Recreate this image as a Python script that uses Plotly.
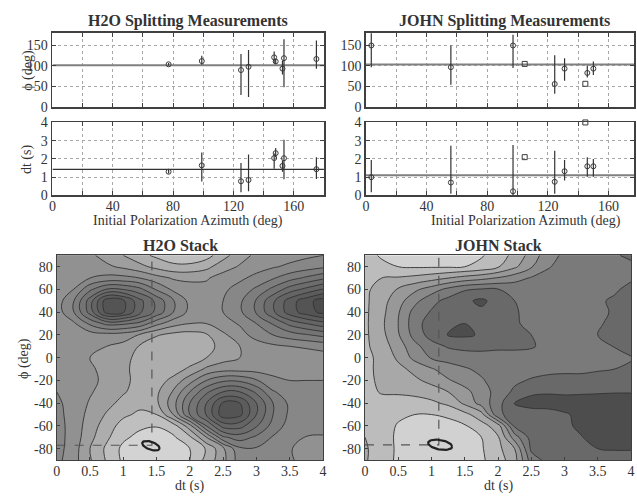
import math
import plotly.graph_objects as go

W, H = 637, 502
SERIF = "Liberation Serif"

# ---------------- splitting measurements ----------------
h2o_az = [77, 99, 125, 130, 147, 148, 152.5, 153.5, 175]
h2o_phi = [104, 112, 90, 98, 121, 111, 93.5, 119, 117]
h2o_phi_lo = [101, 103, 29, 24, 107, 105, 79, 48, 93]
h2o_phi_hi = [107, 125, 129, 139, 135, 117, 113, 165, 162]
h2o_dt = [1.3, 1.65, 0.78, 0.85, 2.05, 2.32, 1.62, 2.04, 1.44]
h2o_dt_lo = [1.2, 0.76, 0.18, 0.23, 1.47, 2.1, 1.3, 0.89, 0.9]
h2o_dt_hi = [1.4, 2.35, 1.78, 2.25, 2.3, 2.6, 1.92, 3.05, 2.1]
h2o_best_phi = 102
h2o_best_dt = 1.43
h2o_stack_phi = -77

john_az = [3.5, 56, 97, 124.5, 131, 146, 150]
john_phi = [150, 97, 150, 56, 93.5, 83, 93.5]
john_phi_lo = [97, 54, 95, 32, 64, 72, 78]
john_phi_hi = [190, 150, 176, 126, 119, 101, 111]
john_dt = [1.0, 0.71, 0.23, 0.75, 1.33, 1.6, 1.6]
john_dt_lo = [0.18, 0.09, 0.0, 0.1, 0.82, 1.03, 1.03]
john_dt_hi = [1.95, 2.72, 2.77, 2.45, 1.95, 2.1, 2.0]
john_null_az = [104.7, 144.7]
john_null_phi = [105, 56.5]
john_null_dt = [2.1, 4.0]
john_best_phi = 103.5
john_best_dt = 1.11
john_stack_phi = -76.6

# ---------------- stacked energy grids ----------------
dt_grid = [0, 0.25, 0.5, 0.75, 1, 1.25, 1.5, 1.75, 2, 2.25, 2.5, 2.75, 3, 3.25, 3.5, 3.75, 4]
phi_grid = [-90, -80, -70, -60, -50, -40, -30, -20, -10, 0, 10, 20, 30, 40, 50, 60, 70, 80, 90]

h2o_energy = [
    [5.3, 4.4, 3.1, 1.9, 0.8, 0.4, 0.3, 0.45, 1.0, 2.3, 3.7, 5.5, 5.9, 5.6, 5.15, 4.6, 4.5],
    [5.4, 4.5, 3.0, 1.8, 0.75, 0.3, 0.2, 0.4, 1.0, 2.1, 3.8, 5.8, 5.9, 5.6, 5.1, 4.5, 4.4],
    [5.4, 4.6, 3.3, 2.2, 1.2, 0.7, 0.55, 0.85, 1.8, 4.0, 6.8, 7.5, 6.8, 5.9, 5.5, 4.95, 4.9],
    [5.4, 4.6, 3.5, 2.5, 1.6, 1.2, 1.05, 1.5, 3.6, 7.0, 9.4, 9.4, 8.1, 6.6, 5.6, 5.4, 5.4],
    [5.3, 4.6, 3.7, 2.9, 2.2, 1.8, 2.0, 4.0, 7.0, 9.1, 11.6, 11.3, 9.0, 7.0, 5.8, 5.5, 5.5],
    [5.2, 4.6, 3.9, 3.3, 2.7, 2.3, 2.8, 4.6, 7.0, 9.0, 11.2, 11.0, 9.0, 7.0, 5.8, 5.5, 5.5],
    [5.0, 4.6, 4.1, 3.6, 3.1, 2.6, 2.8, 4.1, 6.0, 7.8, 9.0, 9.0, 7.8, 6.1, 5.5, 5.3, 5.3],
    [4.8, 4.5, 4.2, 3.8, 3.3, 2.6, 2.5, 3.3, 4.6, 6.0, 6.8, 6.8, 6.1, 5.2, 5.0, 5.0, 5.0],
    [4.5, 4.4, 4.1, 3.8, 3.3, 2.5, 2.3, 2.5, 3.2, 4.2, 4.6, 4.6, 4.6, 4.7, 4.7, 4.8, 4.8],
    [4.3, 4.2, 4.0, 3.8, 3.4, 2.6, 2.2, 2.2, 2.4, 3.0, 3.6, 4.0, 4.3, 4.5, 4.6, 4.6, 4.6],
    [4.2, 4.1, 4.1, 4.0, 3.7, 2.9, 2.3, 2.1, 2.2, 2.6, 3.4, 4.0, 4.5, 4.8, 5.0, 5.1, 5.3],
    [4.2, 4.3, 4.5, 4.6, 4.5, 3.9, 3.1, 2.7, 2.6, 2.9, 3.8, 4.6, 5.4, 6.0, 6.5, 6.9, 7.3],
    [4.3, 4.8, 6.2, 7.3, 7.2, 6.7, 5.3, 4.4, 4.0, 4.0, 4.6, 5.1, 6.0, 7.1, 8.3, 9.0, 9.6],
    [4.5, 5.9, 8.4, 11.4, 11.1, 9.2, 7.7, 6.0, 4.7, 4.4, 5.0, 5.8, 7.1, 8.8, 10.5, 11.5, 12.3],
    [4.5, 5.9, 8.5, 11.6, 11.2, 9.3, 7.7, 6.1, 4.7, 4.4, 5.0, 5.8, 7.1, 8.8, 10.5, 11.6, 12.5],
    [4.6, 5.0, 6.8, 8.1, 8.0, 7.3, 5.9, 4.8, 4.4, 4.3, 4.8, 5.4, 6.2, 7.3, 8.5, 9.3, 10.1],
    [4.8, 4.9, 5.0, 5.3, 5.3, 5.0, 4.4, 3.9, 3.8, 3.9, 4.4, 4.8, 5.3, 5.9, 6.6, 7.2, 7.8],
    [5.0, 4.8, 4.5, 4.2, 3.8, 3.3, 2.7, 2.3, 2.3, 2.7, 3.6, 4.1, 4.6, 4.9, 5.2, 5.5, 5.8],
    [5.0, 4.7, 4.2, 3.6, 3.0, 2.3, 1.8, 1.3, 1.2, 1.6, 2.6, 3.6, 4.2, 4.4, 4.6, 4.8, 5.0],
]

john_energy = [
    [2.1, 1.5, 0.8, 0.4, 0.3, 0.3, 0.5, 0.85, 1.5, 2.6, 5.5, 6.3, 6.5, 6.6, 6.7, 6.7, 6.7],
    [2.1, 1.6, 0.8, 0.35, 0.15, 0.2, 0.45, 0.9, 1.7, 3.0, 6.2, 6.5, 6.6, 6.8, 7.0, 7.05, 7.05],
    [2.0, 1.5, 0.8, 0.4, 0.3, 0.35, 0.6, 1.0, 1.9, 4.5, 6.4, 6.6, 6.8, 6.95, 7.4, 7.6, 7.6],
    [2.0, 1.5, 0.9, 0.6, 0.5, 0.6, 0.9, 1.6, 2.5, 6.2, 6.4, 6.6, 6.8, 7.2, 7.6, 7.8, 7.8],
    [1.9, 1.6, 1.2, 1.0, 1.0, 1.2, 1.7, 2.6, 5.8, 6.4, 6.5, 6.6, 6.9, 7.2, 7.6, 7.8, 7.8],
    [1.9, 1.8, 1.7, 1.7, 1.8, 2.2, 3.2, 4.4, 5.6, 7.1, 7.4, 7.4, 7.4, 7.5, 7.7, 7.8, 7.8],
    [1.8, 2.05, 2.1, 2.2, 2.5, 3.0, 3.7, 4.5, 5.4, 6.2, 6.8, 6.9, 6.85, 6.85, 6.85, 6.9, 6.9],
    [1.8, 2.15, 2.4, 2.8, 3.3, 3.9, 4.4, 4.9, 5.4, 5.8, 6.1, 6.3, 6.3, 6.3, 6.4, 6.5, 6.5],
    [1.8, 2.2, 2.7, 3.3, 3.9, 4.5, 4.9, 5.2, 5.4, 5.5, 5.6, 5.7, 5.8, 5.8, 5.9, 6.0, 6.1],
    [1.8, 2.2, 3.2, 4.3, 5.1, 5.4, 5.5, 5.6, 5.6, 5.6, 5.6, 5.5, 5.3, 5.2, 5.3, 5.6, 5.95],
    [1.8, 2.5, 3.5, 4.7, 5.6, 6.1, 6.3, 6.3, 6.2, 6.2, 6.1, 5.7, 5.3, 5.2, 5.5, 6.05, 6.3],
    [1.8, 2.7, 3.9, 5.4, 6.4, 7.05, 7.15, 6.9, 6.5, 6.2, 6.0, 5.6, 5.3, 5.4, 6.0, 6.3, 6.5],
    [1.8, 2.8, 4.0, 5.6, 6.5, 6.8, 7.0, 6.8, 6.5, 6.1, 5.8, 5.6, 5.4, 5.5, 5.9, 6.2, 6.4],
    [1.8, 2.7, 3.9, 5.4, 6.1, 6.5, 6.7, 6.8, 6.5, 6.1, 5.7, 5.5, 5.5, 5.6, 5.8, 6.1, 6.4],
    [1.8, 2.6, 3.6, 4.7, 5.7, 6.3, 6.8, 7.2, 6.6, 6.0, 5.6, 5.5, 5.6, 5.7, 5.9, 6.1, 6.4],
    [1.8, 2.4, 3.1, 3.8, 4.5, 5.3, 5.9, 6.1, 6.05, 5.7, 5.5, 5.5, 5.6, 5.7, 5.8, 5.9, 6.2],
    [1.7, 2.0, 2.1, 2.3, 2.6, 3.0, 3.4, 3.7, 4.1, 4.6, 5.1, 5.4, 5.5, 5.6, 5.7, 5.7, 5.9],
    [1.5, 1.2, 1.0, 0.9, 0.9, 0.9, 1.0, 1.3, 1.9, 2.8, 3.9, 4.9, 5.4, 5.5, 5.5, 5.6, 5.75],
    [1.3, 0.9, 0.7, 0.6, 0.6, 0.6, 0.7, 0.9, 1.5, 2.3, 3.4, 4.6, 5.2, 5.5, 5.7, 5.9, 6.2],
]

# band fill greys, lightest (below first contour) to darkest
h2o_band_greys = ["#d3d3d3", "#bfbfbf", "#adadad", "#9e9e9e", "#919191", "#878787", "#7d7d7d",
                  "#747474", "#6c6c6c", "#646464", "#5c5c5c", "#545454", "#4c4c4c"]
john_band_greys = ["#d1d1d1", "#bcbcbc", "#a8a8a8", "#989898", "#898989", "#7a7a7a", "#696969",
                   "#4d4d4d"]

# 95% confidence ellipses (centre dt, centre phi, half-width dt, half-height phi, skew)
h2o_conf = (1.415, -77.4, 0.13, 3.6, -2.2)
john_conf = (1.13, -76.6, 0.18, 4.2, -1.6)


def px(x):
    return x / W


def py(y):
    return 1 - y / H


fig = go.Figure()

MARK = dict(symbol="circle-open", size=5, color="#3a3a3a", line=dict(width=1, color="#3a3a3a"))


def err(v, lo, hi):
    return dict(type="data", symmetric=False,
                array=[h - a for a, h in zip(v, hi)],
                arrayminus=[a - l for a, l in zip(v, lo)],
                color="#333333", thickness=1.2, width=0)


def meas(xa, ya, az, val, lo, hi):
    fig.add_trace(go.Scatter(x=az, y=val, mode="markers", xaxis=xa, yaxis=ya,
                             marker=MARK, error_y=err(val, lo, hi), showlegend=False))


def hline(xa, ya, xr, val, color, width):
    fig.add_trace(go.Scatter(x=list(xr), y=[val, val], mode="lines", xaxis=xa, yaxis=ya,
                             line=dict(color=color, width=width), showlegend=False,
                             hoverinfo="skip"))


# H2O top panels
hline("x", "y", (0, 180), h2o_best_phi, "#808080", 2)
meas("x", "y", h2o_az, h2o_phi, h2o_phi_lo, h2o_phi_hi)
hline("x2", "y2", (0, 180), h2o_best_dt, "#333333", 1.2)
meas("x2", "y2", h2o_az, h2o_dt, h2o_dt_lo, h2o_dt_hi)

# JOHN top panels
hline("x3", "y3", (0, 180), john_best_phi, "#808080", 2)
meas("x3", "y3", john_az, john_phi, john_phi_lo, john_phi_hi)
fig.add_trace(go.Scatter(x=john_null_az, y=john_null_phi, mode="markers", xaxis="x3", yaxis="y3",
                         marker=dict(symbol="square-open", size=5, color="#3a3a3a", line=dict(width=1)),
                         cliponaxis=False, showlegend=False))
hline("x4", "y4", (0, 180), john_best_dt, "#808080", 2)
meas("x4", "y4", john_az, john_dt, john_dt_lo, john_dt_hi)
fig.add_trace(go.Scatter(x=john_null_az, y=john_null_dt, mode="markers", xaxis="x4", yaxis="y4",
                         marker=dict(symbol="square-open", size=5, color="#3a3a3a", line=dict(width=1)),
                         cliponaxis=False, showlegend=False))


# contour stacks
def stack(xa, ya, z, greys):
    n = len(greys) - 1
    cs = [[i / n, g] for i, g in enumerate(greys)]
    fig.add_trace(go.Contour(
        x=dt_grid, y=phi_grid, z=z, xaxis=xa, yaxis=ya,
        colorscale=cs, showscale=False,
        contours=dict(start=1, end=n, size=1, coloring="fill"),
        line=dict(color="#333333", width=0.9, smoothing=1.1),
        hoverinfo="skip"))


stack("x5", "y5", h2o_energy, h2o_band_greys)
stack("x6", "y6", john_energy, john_band_greys)


def crosshair(xa, ya, best_dt, best_phi):
    fig.add_trace(go.Scatter(x=[0, best_dt, best_dt], y=[best_phi, best_phi, 90], mode="lines",
                             xaxis=xa, yaxis=ya, line=dict(color="#555555", width=1.2, dash="dash"),
                             showlegend=False, hoverinfo="skip"))


def ellipse(xa, ya, conf):
    cx, cy, rx, ry, sk = conf
    n = 60
    xs = [cx + rx * math.cos(2 * math.pi * i / n) for i in range(n + 1)]
    ys = [cy + ry * math.sin(2 * math.pi * i / n) + sk * math.cos(2 * math.pi * i / n) for i in range(n + 1)]
    fig.add_trace(go.Scatter(x=xs, y=ys, mode="lines", xaxis=xa, yaxis=ya,
                             line=dict(color="#222222", width=2.2), showlegend=False,
                             hoverinfo="skip"))


crosshair("x5", "y5", h2o_best_dt, h2o_stack_phi)
crosshair("x6", "y6", john_best_dt, john_stack_phi)
ellipse("x5", "y5", h2o_conf)
ellipse("x6", "y6", john_conf)

# ---------------- axes ----------------
TICKF = dict(family=SERIF, size=14, color="#333333")
az_vals = list(range(0, 181, 20))
az_text = [str(v) if v % 40 == 0 and v < 180 else "" for v in az_vals]


def frame(**kw):
    d = dict(showline=True, linecolor="#404040", linewidth=1.8, mirror="allticks",
             ticks="inside", ticklen=4, tickcolor="#404040", tickfont=TICKF,
             zeroline=False, fixedrange=True)
    d.update(kw)
    return d


GRID = dict(showgrid=True, gridcolor="#a8a8a8", griddash="dot", gridwidth=1)

xl = (px(49), px(323.5))
xr = (px(366), 1.0)
phi_dom = (py(103), py(27))
dt_dom = (py(194.3), py(119))

layout = dict(
    width=W, height=H, margin=dict(l=0, r=0, t=0, b=0),
    paper_bgcolor="white", plot_bgcolor="white", showlegend=False,
    font=dict(family=SERIF, color="#333333"),
    xaxis=frame(domain=xl, range=[0, 180], anchor="y", tickvals=az_vals, ticktext=[""] * len(az_vals), **GRID),
    yaxis=frame(domain=phi_dom, range=[0, 180], anchor="x", tickvals=[0, 50, 100, 150], **GRID),
    xaxis2=frame(domain=xl, range=[0, 180], anchor="y2", tickvals=az_vals, ticktext=az_text,
                 ticklabelstandoff=-3, **GRID),
    yaxis2=frame(domain=dt_dom, range=[0, 4], anchor="x2", tickvals=[0, 1, 2, 3, 4], **GRID),
    xaxis3=frame(domain=xr, range=[0, 176.8], anchor="y3", tickvals=az_vals, ticktext=[""] * len(az_vals), **GRID),
    yaxis3=frame(domain=phi_dom, range=[0, 180], anchor="x3", tickvals=[0, 50, 100, 150], **GRID),
    xaxis4=frame(domain=xr, range=[0, 176.8], anchor="y4", tickvals=az_vals, ticktext=az_text,
                 ticklabelstandoff=-3, **GRID),
    yaxis4=frame(domain=dt_dom, range=[0, 4], anchor="x4", tickvals=[0, 1, 2, 3, 4], **GRID),
)

dt_ticks = [0, 0.5, 1, 1.5, 2, 2.5, 3, 3.5, 4]
dt_text = ["0", "0.5", "1", "1.5", "2", "2.5", "3", "3.5", "4"]
phi_ticks = [80, 60, 40, 20, 0, -20, -40, -60, -80]
phi_text = [str(v) if v >= 0 else "-" + str(-v) for v in phi_ticks]

stack_dom = (py(467), py(256))
for i, xd in ((5, (px(53.3), px(322.5))), (6, (px(365), px(634)))):
    layout["xaxis%d" % i] = frame(domain=xd, range=[0, 4], anchor="y%d" % i, tickvals=dt_ticks,
                                  ticktext=dt_text, linewidth=1.2, ticklen=3, showgrid=False,
                                  mirror=True, ticklabelstandoff=-2)
    layout["yaxis%d" % i] = frame(domain=stack_dom, range=[-90, 90], anchor="x%d" % i,
                                  tickvals=phi_ticks, ticktext=phi_text, linewidth=1.2,
                                  ticklen=3, showgrid=False, mirror=True)

fig.update_layout(**layout)


# ---------------- text ----------------
def text(x, y, s, size=14, bold=False, angle=0):
    fig.add_annotation(x=px(x), y=py(y), xref="paper", yref="paper", text="<b>%s</b>" % s if bold else s,
                       showarrow=False, textangle=angle, xanchor="center", yanchor="middle",
                       font=dict(family=SERIF, size=size, color="#333333"))


text(186, 14, "H2O Splitting Measurements", 16, True)
text(506, 14, "JOHN Splitting Measurements", 16, True)
text(178, 246, "H2O Stack", 16, True)
text(500, 246, "JOHN Stack", 16, True)
text(24, 65, "ϕ (deg)", 14, angle=-90)
text(24, 157, "dt (s)", 14, angle=-90)
text(186, 221, "Initial Polarization Azimuth (deg)", 14)
text(528, 221, "Initial Polarization Azimuth (deg)", 14)
text(20, 362, "ϕ (deg)", 14, angle=-90)
text(188, 494, "dt (s)", 14)
text(500, 494, "dt (s)", 14)

fig.write_html("out.html", config={"displayModeBar": False, "staticPlot": True},
               post_script="document.body.style.margin='0';document.body.style.padding='0';"
                           "document.body.style.overflow='hidden';")
